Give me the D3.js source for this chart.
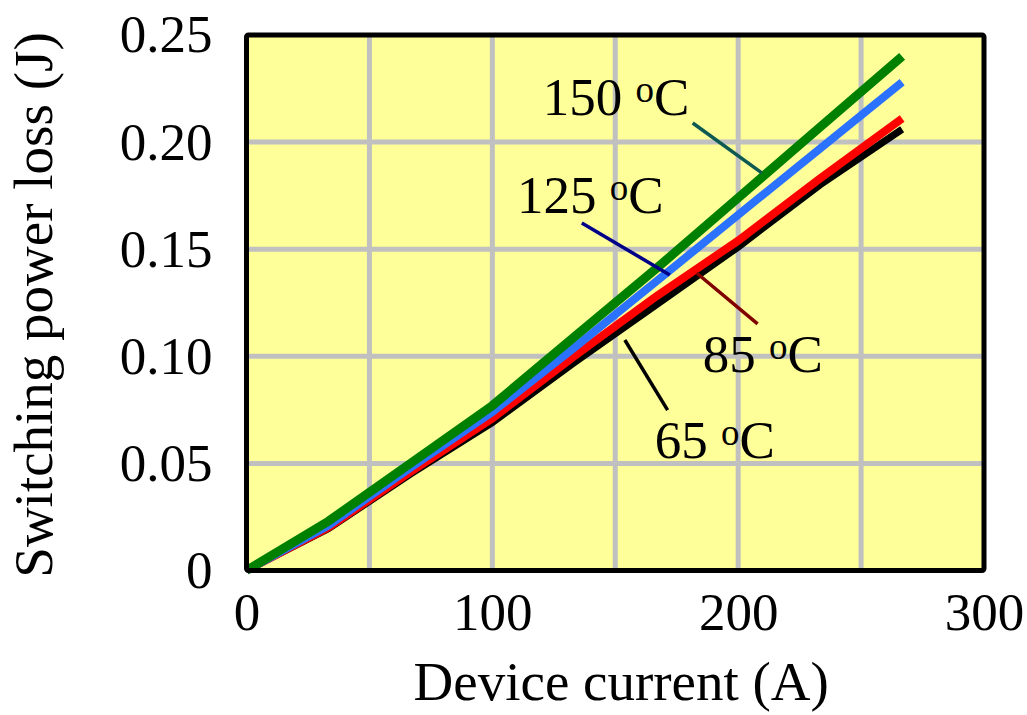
<!DOCTYPE html>
<html>
<head>
<meta charset="utf-8">
<script src="https://cdn.jsdelivr.net/npm/d3@7"></script>
<style>
  body { margin: 0; background: #fff; }
  text { font-family: "Liberation Serif", "Times New Roman", serif; fill: #000; }
</style>
</head>
<body>
<div id="chart"></div>
<script>

// DATA //
var current = [0, 33.3, 66.7, 100, 133.3, 166.7, 200, 233.3, 266.7];
var loss65  = [0, 0.0195, 0.045, 0.069, 0.097, 0.124, 0.151, 0.180, 0.206];
var loss85  = [0, 0.020, 0.046, 0.071, 0.100, 0.128, 0.154, 0.183, 0.211];
var loss125 = [0, 0.021, 0.048, 0.074, 0.104, 0.135, 0.166, 0.197, 0.228];
var loss150 = [0, 0.023, 0.050, 0.077, 0.109, 0.141, 0.174, 0.207, 0.240];

var xTicks = [0, 100, 200, 300];
var yTicks = [0, 0.05, 0.10, 0.15, 0.20, 0.25];
var yTickLabels = ["0", "0.05", "0.10", "0.15", "0.20", "0.25"];
var xGrid = [50, 100, 150, 200, 250];
var yGrid = [0.05, 0.10, 0.15, 0.20];

// label text, label anchor (A, J), leader start and end (A, J)
var labelNames = ["150", "125", "85", "65"];
var labelPos = [[120.5, 0.2127], [110, 0.1669], [185.6, 0.0927], [166.1, 0.0525]];
var leaderFrom = [[181.5, 0.2089], [136.4, 0.1622], [183.1, 0.1389], [153.9, 0.1076]];
var leaderTo = [[209.6, 0.1856], [172.2, 0.1380], [207.9, 0.1151], [171.3, 0.0749]];
var leaderColors = ["#0e5a52", "#000088", "#800000", "#000000"];

var series = [
	{name: "65", values: loss65, color: "#000000", width: 7},
	{name: "85", values: loss85, color: "#ff0000", width: 8},
	{name: "125", values: loss125, color: "#2a72ff", width: 8},
	{name: "150", values: loss150, color: "#008000", width: 9}
];

var margin = {top: 35, right: 43, bottom: 144.5, left: 246.5};
var width = 1027 - margin.left - margin.right;
var height = 715 - margin.top - margin.bottom;

var svg = d3.select("#chart").append("svg")
	.attr("width", 1027)
	.attr("height", 715)
	.append("g")
	.attr("transform", "translate(" + margin.left + "," + margin.top + ")");

var x = d3.scaleLinear().domain([0, 300]).range([0, width]);
var y = d3.scaleLinear().domain([0, 0.25]).range([height, 0]);

// plot background
svg.append("rect")
	.attr("width", width)
	.attr("height", height)
	.attr("fill", "#ffff99");

// grid
svg.selectAll(".vgrid").data(xGrid).enter().append("line")
	.attr("x1", d => x(d)).attr("x2", d => x(d))
	.attr("y1", 0).attr("y2", height)
	.attr("stroke", "#c0c0c0").attr("stroke-width", 5);

svg.selectAll(".hgrid").data(yGrid).enter().append("line")
	.attr("x1", 0).attr("x2", width)
	.attr("y1", d => y(d)).attr("y2", d => y(d))
	.attr("stroke", "#c0c0c0").attr("stroke-width", 5);

// lines
var line = d3.line()
	.x((d, i) => x(current[i]))
	.y(d => y(d));

svg.selectAll(".series").data(series).enter().append("path")
	.attr("d", d => line(d.values))
	.attr("fill", "none")
	.attr("stroke", d => d.color)
	.attr("stroke-width", d => d.width)
	.attr("stroke-linejoin", "miter");

// border
svg.append("rect")
	.attr("width", width)
	.attr("height", height)
	.attr("fill", "none")
	.attr("stroke", "#000")
	.attr("stroke-width", 5)
	.attr("rx", 2);

// axes
var xAxis = d3.axisBottom(x).tickValues(xTicks).tickSize(0).tickPadding(22);
var yAxis = d3.axisLeft(y).tickValues(yTicks).tickSize(0).tickPadding(34)
	.tickFormat((d, i) => yTickLabels[i]);

var gx = svg.append("g").attr("transform", "translate(0," + height + ")").call(xAxis);
var gy = svg.append("g").call(yAxis);
[gx, gy].forEach(function(g) {
	g.select(".domain").remove();
	g.selectAll("text")
		.style("font-family", '"Liberation Serif", serif')
		.style("font-size", "53px")
		.attr("fill", "#000");
});
gx.selectAll("text").attr("dy", "0.71em");

svg.append("text")
	.attr("x", width / 2 + 6)
	.attr("y", height + 129)
	.attr("text-anchor", "middle")
	.style("font-size", "55px")
	.text("Device current (A)");

svg.append("text")
	.attr("transform", "translate(-195," + (270) + ") rotate(-90)")
	.attr("text-anchor", "middle")
	.style("font-size", "55px")
	.text("Switching power loss (J)");

// leader lines and labels
svg.selectAll(".leader").data(labelNames).enter().append("line")
	.attr("x1", (d, i) => x(leaderFrom[i][0]))
	.attr("y1", (d, i) => y(leaderFrom[i][1]))
	.attr("x2", (d, i) => x(leaderTo[i][0]))
	.attr("y2", (d, i) => y(leaderTo[i][1]))
	.attr("stroke", (d, i) => leaderColors[i])
	.attr("stroke-width", 3.5);

var labels = svg.selectAll(".lbl").data(labelNames).enter().append("text")
	.attr("x", (d, i) => x(labelPos[i][0]))
	.attr("y", (d, i) => y(labelPos[i][1]))
	.style("font-size", "53px");
labels.append("tspan").text(d => d + " ");
labels.append("tspan").attr("dy", -13).style("font-size", "37px").text("o");
labels.append("tspan").attr("dy", 13).text("C");

</script>
</body>
</html>
